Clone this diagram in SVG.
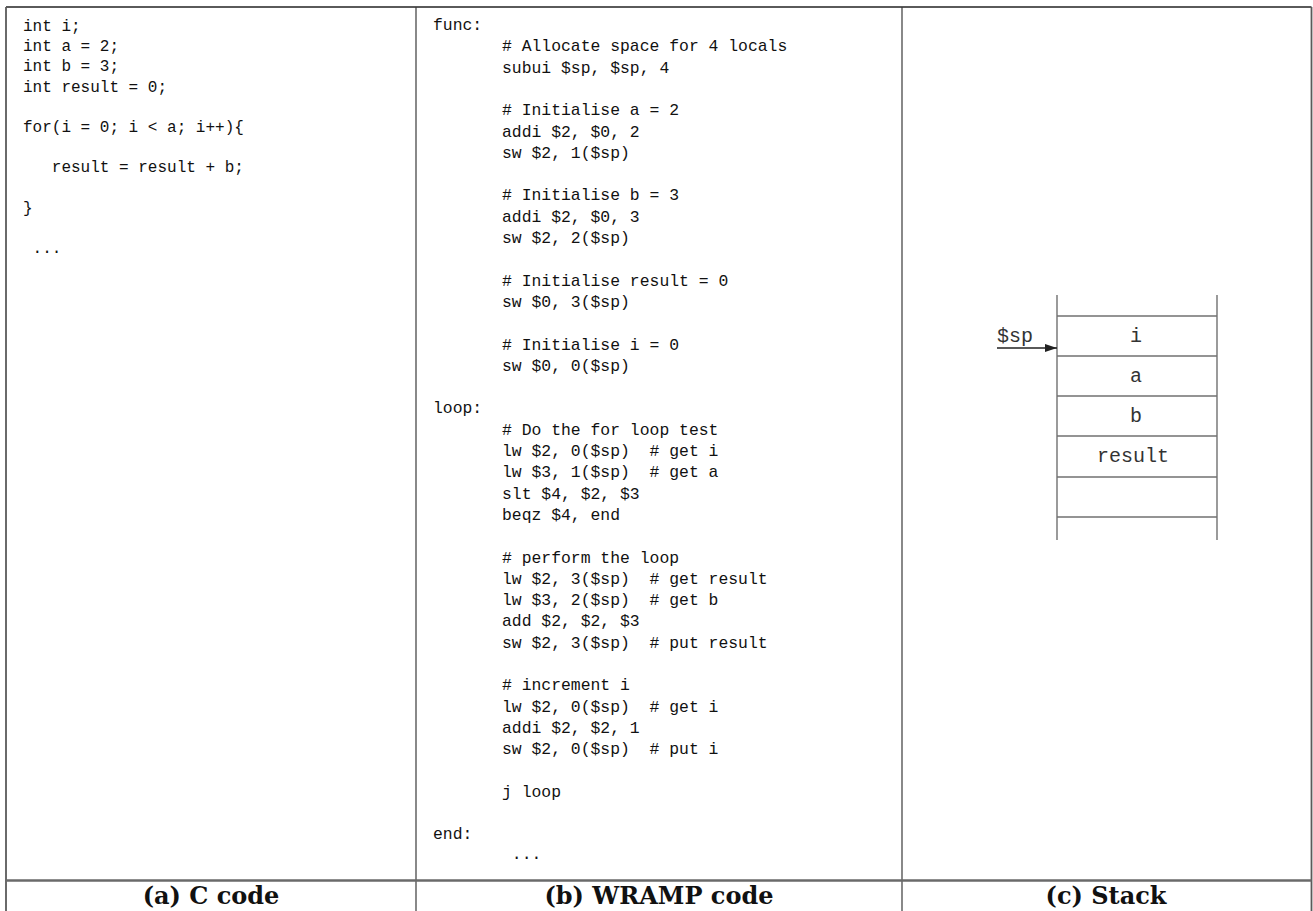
<svg xmlns="http://www.w3.org/2000/svg" width="1313" height="911" viewBox="0 0 1313 911">
<style>
.frame{stroke:#5a5a5a;stroke-width:1.8;fill:none}
.div{stroke:#3a3a3a;stroke-width:1.2;fill:none}
.sep{stroke:#6a6a6a;stroke-width:2.4;fill:none}
.c{font-family:"Liberation Mono","DejaVu Sans Mono",monospace;font-size:16px;fill:#111;white-space:pre}
.w{font-family:"Liberation Mono","DejaVu Sans Mono",monospace;font-size:16.4px;fill:#111;white-space:pre}
.st{stroke:#707070;stroke-width:1.4;fill:none}
.sl{font-family:"Liberation Mono","Courier New",monospace;font-size:20px;fill:#333;text-anchor:middle}
.sp{font-family:"Liberation Mono","Courier New",monospace;font-size:20px;fill:#333}
.cap{font-family:"DejaVu Serif","Liberation Serif",serif;font-size:24px;font-weight:bold;fill:#111;text-anchor:middle}
.arr{stroke:#222;stroke-width:1.4;fill:none}
</style>
<defs>
<marker id="ah" viewBox="0 0 12 8" refX="12" refY="4" markerWidth="12" markerHeight="8" markerUnits="userSpaceOnUse" orient="auto">
<path d="M0,0 L12,4 L0,8 z" fill="#222"/>
</marker>
</defs>
<rect width="1313" height="911" fill="#fff"/>
<g id="table">
<line class="frame" x1="6" y1="7" x2="1311.5" y2="7"/>
<line class="frame" x1="6" y1="7" x2="6" y2="911"/>
<line class="frame" x1="1311.5" y1="7" x2="1311.5" y2="911"/>
<line class="div" x1="416" y1="7" x2="416" y2="911"/>
<line class="div" x1="902" y1="7" x2="902" y2="911"/>
<line class="sep" x1="6" y1="880.5" x2="1311.5" y2="880.5"/>
</g>
<g id="c-code" xml:space="preserve">
<text class="c" x="23" y="31">int i;</text>
<text class="c" x="23" y="51.2">int a = 2;</text>
<text class="c" x="23" y="71.4">int b = 3;</text>
<text class="c" x="23" y="91.6">int result = 0;</text>
<text class="c" x="23" y="132">for(i = 0; i &lt; a; i++){</text>
<text class="c" x="23" y="172.4">   result = result + b;</text>
<text class="c" x="23" y="212.8">}</text>
<text class="c" x="23" y="253.2"> ...</text>
</g>
<g id="wramp-code" xml:space="preserve">
<text class="w" x="433" y="30">func:</text>
<text class="w" x="502" y="51.3"># Allocate space for 4 locals</text>
<text class="w" x="502" y="72.6">subui $sp, $sp, 4</text>
<text class="w" x="502" y="115.2"># Initialise a = 2</text>
<text class="w" x="502" y="136.5">addi $2, $0, 2</text>
<text class="w" x="502" y="157.8">sw $2, 1($sp)</text>
<text class="w" x="502" y="200.4"># Initialise b = 3</text>
<text class="w" x="502" y="221.7">addi $2, $0, 3</text>
<text class="w" x="502" y="243">sw $2, 2($sp)</text>
<text class="w" x="502" y="285.6"># Initialise result = 0</text>
<text class="w" x="502" y="306.9">sw $0, 3($sp)</text>
<text class="w" x="502" y="349.5"># Initialise i = 0</text>
<text class="w" x="502" y="370.8">sw $0, 0($sp)</text>
<text class="w" x="433" y="413.4">loop:</text>
<text class="w" x="502" y="434.7"># Do the for loop test</text>
<text class="w" x="502" y="456">lw $2, 0($sp)  # get i</text>
<text class="w" x="502" y="477.3">lw $3, 1($sp)  # get a</text>
<text class="w" x="502" y="498.6">slt $4, $2, $3</text>
<text class="w" x="502" y="519.9">beqz $4, end</text>
<text class="w" x="502" y="562.5"># perform the loop</text>
<text class="w" x="502" y="583.8">lw $2, 3($sp)  # get result</text>
<text class="w" x="502" y="605.1">lw $3, 2($sp)  # get b</text>
<text class="w" x="502" y="626.4">add $2, $2, $3</text>
<text class="w" x="502" y="647.7">sw $2, 3($sp)  # put result</text>
<text class="w" x="502" y="690.3"># increment i</text>
<text class="w" x="502" y="711.6">lw $2, 0($sp)  # get i</text>
<text class="w" x="502" y="732.9">addi $2, $2, 1</text>
<text class="w" x="502" y="754.2">sw $2, 0($sp)  # put i</text>
<text class="w" x="502" y="796.8">j loop</text>
<text class="w" x="433" y="839">end:</text>
<text class="w" x="502" y="859"> ...</text>
</g>
<g id="stack">
<line class="st" x1="1057" y1="295" x2="1057" y2="540"/>
<line class="st" x1="1217" y1="295" x2="1217" y2="540"/>
<line class="st" x1="1057" y1="316" x2="1217" y2="316"/>
<line class="st" x1="1057" y1="517" x2="1217" y2="517"/>
</g>
<g id="cell-i"><line class="st" x1="1057" y1="356" x2="1217" y2="356"/><text class="sl" x="1136" y="342">i</text></g>
<g id="cell-a"><line class="st" x1="1057" y1="396" x2="1217" y2="396"/><text class="sl" x="1136" y="382">a</text></g>
<g id="cell-b"><line class="st" x1="1057" y1="436" x2="1217" y2="436"/><text class="sl" x="1136" y="422">b</text></g>
<g id="cell-result"><line class="st" x1="1057" y1="477" x2="1217" y2="477"/><text class="sl" x="1133" y="462">result</text></g>
<g id="cell-empty"></g>
<g id="sp-label"><text class="sp" x="997" y="342">$sp</text></g>
<g id="connectors">
<line class="arr" x1="997" y1="348" x2="1057" y2="348" marker-end="url(#ah)"/>
</g>
<g id="captions">
<text class="cap" x="211" y="904">(a) C code</text>
<text class="cap" x="659" y="904">(b) WRAMP code</text>
<text class="cap" x="1106" y="904">(c) Stack</text>
</g>
</svg>
